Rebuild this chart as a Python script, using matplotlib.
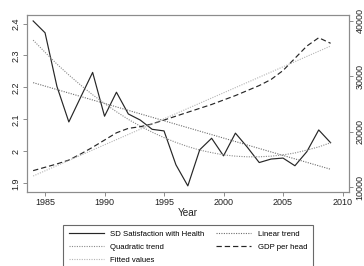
import matplotlib
matplotlib.use("Agg")

import matplotlib.pyplot as plt
import numpy as np

years = list(range(1984, 2010))

# SD of satisfaction with health (left axis)
sd_health = [2.408, 2.371, 2.203, 2.092, 2.170, 2.247, 2.110, 2.185, 2.117, 2.098,
             2.069, 2.064, 1.958, 1.892, 2.005, 2.041, 1.986, 2.057, 2.013, 1.965,
             1.976, 1.979, 1.955, 1.999, 2.067, 2.027]

# quadratic trend of the SD series
quad_trend = [2.348, 2.310, 2.273, 2.239, 2.207, 2.177, 2.150, 2.124, 2.100, 2.079,
              2.060, 2.043, 2.028, 2.015, 2.004, 1.996, 1.989, 1.985, 1.983, 1.983,
              1.985, 1.989, 1.995, 2.004, 2.014, 2.027]

# linear trend of the SD series (end points)
lin_years = [1984, 2009]
lin_trend = [2.215, 1.944]

# GDP per head (right axis)
gdp = [13000, 13600, 14200, 14900, 16000, 17200, 18500, 19800, 20600, 20900,
       21400, 22100, 22800, 23500, 24200, 24900, 25700, 26500, 27400, 28300,
       29400, 31000, 33200, 35400, 36900, 35900]

# fitted values of GDP per head (end points)
fit_years = [1984, 2009]
gdp_fit = [12030, 35410]

FONT = "Liberation Sans"
FS = 6.5
LEG_FS = 5.6
TEXT = "#222222"
AXIS_GRAY = "#8c8c8c"

plt.rcParams["font.family"] = [FONT, "DejaVu Sans"]

fig = plt.figure(figsize=(3.64, 2.66), dpi=100)
ax = fig.add_axes([0.0734, 0.2793, 0.8862, 0.6643])
ax2 = ax.twinx()

dotted = (0, (1, 1.2))
l_sd, = ax.plot(years, sd_health, color="#262626", lw=0.85, label="SD Satisfaction with Health")
l_lin, = ax.plot(lin_years, lin_trend, color="#6e6e6e", lw=0.8, ls=dotted, label="Linear trend")
l_quad, = ax.plot(years, quad_trend, color="#8a8a8a", lw=0.8, ls=dotted, label="Quadratic trend")
l_gdp, = ax2.plot(years, gdp, color="#262626", lw=0.85, ls=(0, (4.5, 2.5)), label="GDP per head")
l_fit, = ax2.plot(fit_years, gdp_fit, color="#b4b4b4", lw=0.8, ls=dotted, label="Fitted values")

ax.set_xlim(1983.46, 2010.57)
ax.set_ylim(1.8738, 2.4266)
ax2.set_ylim(9209, 40989)

ax.set_xticks([1985, 1990, 1995, 2000, 2005, 2010])
ax.set_yticks([1.9, 2.0, 2.1, 2.2, 2.3, 2.4])
ax.set_yticklabels(["1.9", "2", "2.1", "2.2", "2.3", "2.4"])
ax2.set_yticks([10000, 20000, 30000, 40000])

for a in (ax, ax2):
    for s in a.spines.values():
        s.set_color(AXIS_GRAY)
        s.set_linewidth(0.8)
    a.tick_params(colors=AXIS_GRAY, labelcolor=TEXT, labelsize=FS,
                  length=3, width=0.7, pad=1.5)

for lab in ax.get_yticklabels() + ax2.get_yticklabels():
    lab.set_rotation(90)
    lab.set_va("center")

ax.set_xlabel("Year", fontsize=7.2, labelpad=0.5, color=TEXT)

handles = [l_sd, l_quad, l_fit, l_lin, l_gdp]
leg = fig.legend(handles, [h.get_label() for h in handles],
                 loc="upper left", bbox_to_anchor=(0.1723, 0.1553),
                 ncol=2, fontsize=LEG_FS, frameon=True, fancybox=False,
                 borderaxespad=0, borderpad=0.75, handlelength=4.5,
                 handletextpad=0.85, columnspacing=1.5, labelspacing=0.73)
leg.get_frame().set_edgecolor("#444444")
leg.get_frame().set_linewidth(0.8)

fig.savefig("out.png", dpi=100)
